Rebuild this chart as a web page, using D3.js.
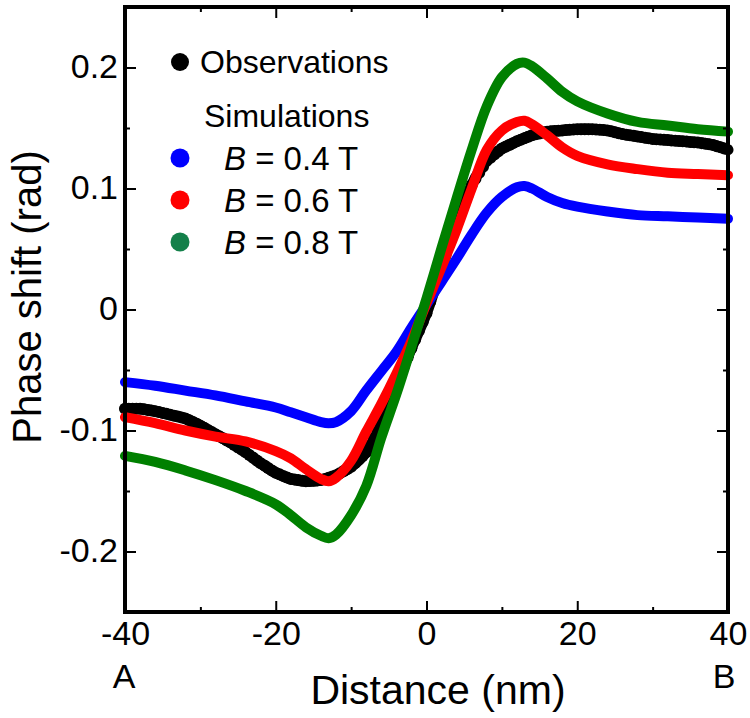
<!DOCTYPE html>
<html>
<head>
<meta charset="utf-8">
<script src="https://cdn.jsdelivr.net/npm/d3@7"></script>
<style>
  html, body { margin: 0; padding: 0; background: #fff; }
  svg { display: block; font-family: "Liberation Sans", Arial, sans-serif; }
</style>
</head>
<body>
<svg id="chart" width="750" height="718"></svg>
<script>
// ---------- data ----------
const xTickValues = [-40, -20, 0, 20, 40];
const xTickLabels = ["-40", "-20", "0", "20", "40"];
const xMinorTicks = [-30, -10, 10, 30];
const yTickValues = [-0.2, -0.1, 0, 0.1, 0.2];
const yTickLabels = ["-0.2", "-0.1", "0", "0.1", "0.2"];
const yMinorTicks = [-0.15, -0.05, 0.05, 0.15];

const xSim = [-40, -36, -32, -28, -24, -20, -18, -16, -14, -13, -12, -10, -8, -6, -4, -2, 0,
              2, 4, 6, 8, 10, 12, 13, 14, 16, 18, 20, 24, 28, 32, 36, 40];
const simB04 = [-0.060, -0.063, -0.067, -0.071, -0.076, -0.081, -0.085, -0.089, -0.093, -0.094, -0.093, -0.084, -0.067, -0.051, -0.035, -0.015, 0.004,
                0.023, 0.042, 0.062, 0.080, 0.093, 0.101, 0.102, 0.100, 0.093, 0.088, 0.085, 0.081, 0.078, 0.077, 0.076, 0.075];
const simB06 = [-0.089, -0.094, -0.100, -0.105, -0.109, -0.117, -0.123, -0.132, -0.140, -0.142, -0.139, -0.125, -0.101, -0.078, -0.053, -0.026, 0.005,
                0.035, 0.066, 0.100, 0.132, 0.148, 0.155, 0.156, 0.153, 0.144, 0.134, 0.127, 0.120, 0.116, 0.113, 0.112, 0.111];
const simB08 = [-0.121, -0.126, -0.133, -0.141, -0.150, -0.161, -0.170, -0.180, -0.187, -0.189, -0.186, -0.170, -0.146, -0.106, -0.070, -0.031, 0.009,
                0.051, 0.092, 0.132, 0.168, 0.192, 0.203, 0.204, 0.201, 0.191, 0.180, 0.172, 0.162, 0.155, 0.152, 0.149, 0.147];

const xObs = [-40, -38, -36, -34, -32, -30, -28, -26, -24, -22, -20, -18, -16, -14, -12, -10, -8, -6, -4, -2, 0,
              2, 4, 6, 8, 10, 12, 14, 16, 18, 20, 22, 24, 26, 28, 30, 32, 34, 36, 38, 40];
const observed = [-0.082, -0.082, -0.084, -0.087, -0.090, -0.096, -0.103, -0.110, -0.118, -0.127, -0.135, -0.140, -0.142, -0.141, -0.137, -0.130, -0.118, -0.095, -0.062, -0.032, -0.003,
                  0.035, 0.072, 0.103, 0.123, 0.133, 0.139, 0.144, 0.147, 0.148, 0.149, 0.149, 0.148, 0.145, 0.143, 0.141, 0.140, 0.139, 0.138, 0.136, 0.132];

const seriesNames = ["Observations", "B = 0.4 T", "B = 0.6 T", "B = 0.8 T"];
const seriesColors = ["#000000", "#0000ff", "#ff0000", "#008000"];
const legendDotColors = ["#000000", "#0000ff", "#ff0000", "#14804a"];

// ---------- layout ----------
const svg = d3.select("#chart");
const L = 125, R = 728, T = 7, B = 612;
const x = d3.scaleLinear().domain([-40, 40]).range([L, R]);
const y = d3.scaleLinear().domain([-0.25, 0.25]).range([B, T]);

// ---------- data curves ----------
const line = d3.line().curve(d3.curveCatmullRom.alpha(0.5));
const plot = svg.append("g");
function drawSeries(xs, vs, color, w) {
  plot.append("path")
    .attr("d", line(xs.map((d, i) => [x(d), y(vs[i])])))
    .attr("fill", "none")
    .attr("stroke", color)
    .attr("stroke-width", w)
    .attr("stroke-linejoin", "round")
    .attr("stroke-linecap", "round");
}
drawSeries(xObs, observed, seriesColors[0], 11);
// textured edge for observed points
plot.append("g").selectAll("circle")
  .data(d3.range(xObs.length - 1).flatMap(i => d3.range(0, 1, 0.25).map(t => [
    xObs[i] + t * (xObs[i + 1] - xObs[i]), observed[i] + t * (observed[i + 1] - observed[i])])))
  .join("circle")
  .attr("cx", d => x(d[0])).attr("cy", d => y(d[1])).attr("r", 6).attr("fill", "#000");
drawSeries(xSim, simB04, seriesColors[1], 10);
drawSeries(xSim, simB06, seriesColors[2], 10);
drawSeries(xSim, simB08, seriesColors[3], 10);

// ---------- axes (ticks inward, mirrored) ----------
const fontTick = "34px";
function styleAxis(g) { g.select(".domain").remove(); g.selectAll("line").attr("stroke", "#000").attr("stroke-width", 2); }

const bottom = svg.append("g").attr("transform", `translate(0,${B})`)
  .call(d3.axisBottom(x).tickValues(xTickValues).tickSize(-11).tickFormat((d, i) => xTickLabels[i]));
styleAxis(bottom);
bottom.selectAll("text").attr("y", 0).attr("dy", "33px").attr("font-size", fontTick).attr("fill", "#000")
  .attr("font-family", "Liberation Sans, Arial, sans-serif");
svg.append("g").attr("transform", `translate(0,${B})`)
  .call(d3.axisBottom(x).tickValues(xMinorTicks).tickSize(-5).tickFormat("")).call(styleAxis);
svg.append("g").attr("transform", `translate(0,${T})`)
  .call(d3.axisTop(x).tickValues(xTickValues).tickSize(-11).tickFormat("")).call(styleAxis);
svg.append("g").attr("transform", `translate(0,${T})`)
  .call(d3.axisTop(x).tickValues(xMinorTicks).tickSize(-5).tickFormat("")).call(styleAxis);

const left = svg.append("g").attr("transform", `translate(${L},0)`)
  .call(d3.axisLeft(y).tickValues(yTickValues).tickSize(-11).tickPadding(7).tickFormat((d, i) => yTickLabels[i]));
styleAxis(left);
left.selectAll("text").attr("x", -7).attr("dy", "10px").attr("font-size", fontTick).attr("fill", "#000")
  .attr("font-family", "Liberation Sans, Arial, sans-serif");
svg.append("g").attr("transform", `translate(${L},0)`)
  .call(d3.axisLeft(y).tickValues(yMinorTicks).tickSize(-5).tickFormat("")).call(styleAxis);
svg.append("g").attr("transform", `translate(${R},0)`)
  .call(d3.axisRight(y).tickValues(yTickValues).tickSize(-11).tickFormat("")).call(styleAxis);
svg.append("g").attr("transform", `translate(${R},0)`)
  .call(d3.axisRight(y).tickValues(yMinorTicks).tickSize(-5).tickFormat("")).call(styleAxis);

// frame
svg.append("rect").attr("x", L).attr("y", T).attr("width", R - L).attr("height", B - T)
  .attr("fill", "none").attr("stroke", "#000").attr("stroke-width", 4);

// ---------- axis titles ----------
svg.append("text").attr("x", 438).attr("y", 704).attr("text-anchor", "middle")
  .attr("font-size", "41px").text("Distance (nm)");
svg.append("text").attr("transform", "translate(41,297) rotate(-90)").attr("text-anchor", "middle")
  .attr("font-size", "40px").text("Phase shift (rad)");
svg.append("text").attr("x", 124).attr("y", 688).attr("text-anchor", "middle")
  .attr("font-size", "34px").text("A");
svg.append("text").attr("x", 724).attr("y", 688).attr("text-anchor", "middle")
  .attr("font-size", "34px").text("B");

// ---------- legend ----------
const lg = svg.append("g");
lg.append("circle").attr("cx", 180).attr("cy", 62).attr("r", 9).attr("fill", legendDotColors[0]);
lg.append("text").attr("x", 200).attr("y", 73).attr("font-size", "32px").text(seriesNames[0]);
lg.append("text").attr("x", 204).attr("y", 127).attr("font-size", "32px").text("Simulations");
const simY = [158, 200, 242];
[1, 2, 3].forEach((k, i) => {
  lg.append("circle").attr("cx", 180).attr("cy", simY[i]).attr("r", 9.5).attr("fill", legendDotColors[k]);
  const t = lg.append("text").attr("x", 224).attr("y", simY[i] + 12).attr("font-size", "33px");
  const parts = seriesNames[k].split(" = ");
  t.append("tspan").attr("font-style", "italic").text(parts[0]);
  t.append("tspan").text(" = " + parts[1]);
});
</script>
</body>
</html>
